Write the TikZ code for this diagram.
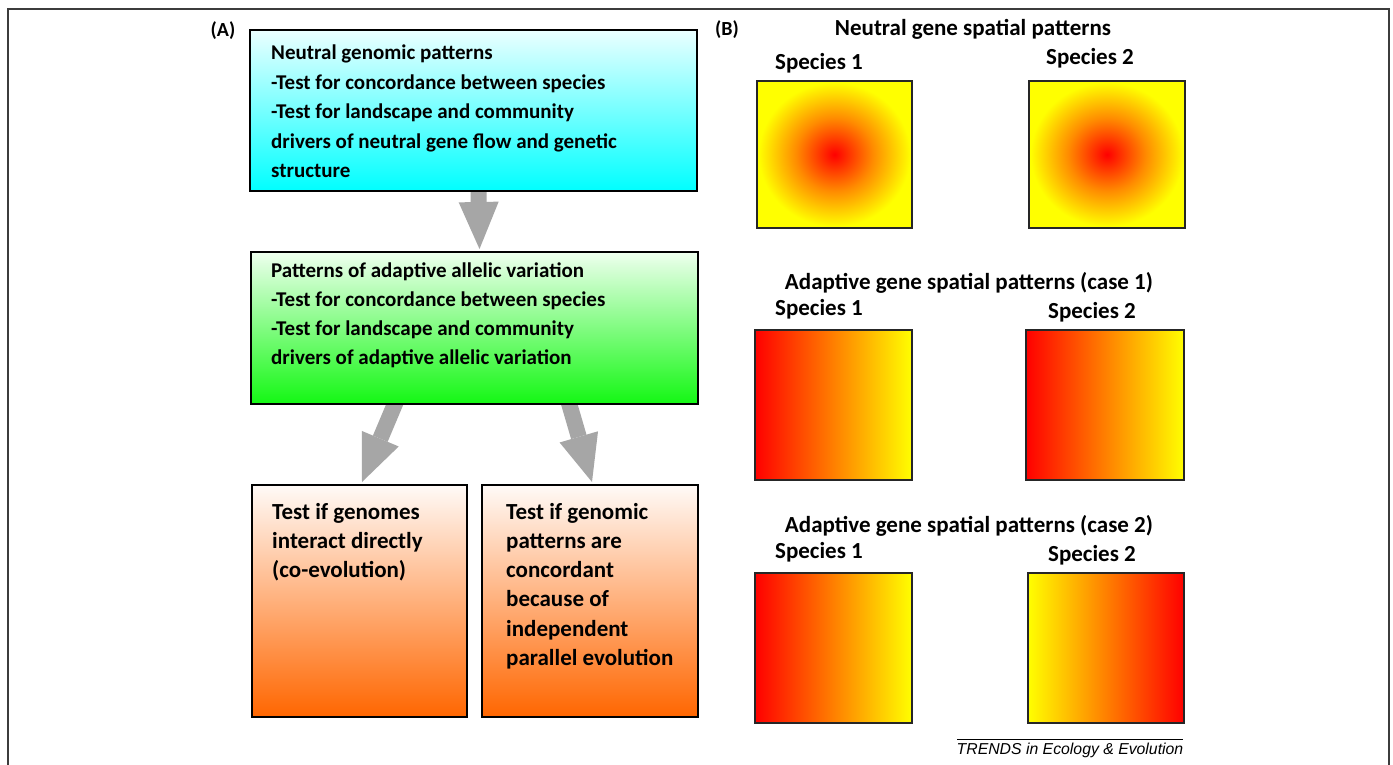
\documentclass[tikz,border=0pt]{standalone}
\usepackage{fontspec}
\setmainfont{Carlito}
\newfontfamily\footfont{Liberation Sans}
\usetikzlibrary{arrows.meta,backgrounds,calc}
\definecolor{framegray}{RGB}{60,60,60}
\definecolor{arrowgray}{RGB}{166,166,166}
\definecolor{cyantop}{RGB}{235,255,255}
\definecolor{cyanbot}{RGB}{0,255,255}
\definecolor{greentop}{RGB}{238,255,238}
\definecolor{greenbot}{RGB}{20,248,20}
\definecolor{orgtop}{RGB}{255,250,247}
\definecolor{orgbot}{RGB}{255,102,0}
\definecolor{pred}{RGB}{255,0,0}
\definecolor{porange}{RGB}{255,140,0}
\definecolor{pyellow}{RGB}{255,255,0}
\pgfdeclareradialshading{neutralshade}{\pgfpoint{0bp}{0bp}}{color(0bp)=(pred); color(12.5bp)=(porange); color(24.5bp)=(pyellow); color(50bp)=(pyellow)}
\tikzset{
  flowbox/.style={draw=black, line width=2pt, inner sep=0pt},
  mapbox/.style={draw=black!85, line width=1.3pt, inner sep=0pt},
  boxtext/.style={anchor=base west, inner sep=0pt},
  title/.style={anchor=base, inner sep=0pt, font=\fontsize{23}{27}\selectfont\bfseries},
  panel/.style={anchor=base, inner sep=0pt, font=\fontsize{20}{24}\selectfont\bfseries},
  bigarrow/.style={draw=arrowgray, line width=16pt, -{Triangle[width=40pt,length=47pt,line width=0pt]}, shorten <=-8pt},
}
\begin{document}
\begin{tikzpicture}[x=1pt,y=-1pt]
\useasboundingbox (0,0) rectangle (1393,765);
\begin{scope}[on background layer]
\fill[white] (0,0) rectangle (1393,765);
\end{scope}
\draw[framegray, line width=2pt] (8,766) -- (8,9) -- (1389,9) -- (1389,766);

% panel labels
\node[panel] (labA) at (223,37) {(A)};
\node[panel] (labB) at (727,36) {(B)};

% flow boxes
\node[flowbox, top color=cyantop, bottom color=cyanbot, minimum width=447pt, minimum height=161pt] (box1) at (473.5,110.5) {};
\node[flowbox, top color=greentop, bottom color=greenbot, minimum width=447pt, minimum height=152pt] (box2) at (474.5,328) {};
\node[flowbox, top color=orgtop, bottom color=orgbot, minimum width=215pt, minimum height=232pt] (box3) at (359.5,601) {};
\node[flowbox, top color=orgtop, bottom color=orgbot, minimum width=216pt, minimum height=232pt] (box4) at (590,601) {};

\node[boxtext] (t1) at (271,60) {\parbox[t]{420pt}{\raggedright\fontsize{21}{29.5}\selectfont\bfseries
Neutral genomic patterns\\
-Test for concordance between species\\
-Test for landscape and community\\
drivers of neutral gene flow and genetic\\
structure}};
\node[boxtext] (t2) at (271,277) {\parbox[t]{420pt}{\raggedright\fontsize{21}{29.3}\selectfont\bfseries
Patterns of adaptive allelic variation\\
-Test for concordance between species\\
-Test for landscape and community\\
drivers of adaptive allelic variation}};
\node[boxtext] (t3) at (272,519) {\parbox[t]{190pt}{\raggedright\fontsize{23}{29.3}\selectfont\bfseries
Test if genomes\\
interact directly\\
(co-evolution)}};
\node[boxtext] (t4) at (506,519) {\parbox[t]{190pt}{\raggedright\fontsize{23}{29.3}\selectfont\bfseries
Test if genomic\\
patterns are\\
concordant\\
because of\\
independent\\
parallel evolution}};

% arrows
\begin{scope}[on background layer]
\draw[bigarrow] ([xshift=5pt]box1.south) -- ([xshift=5pt,yshift=2pt]box2.north);
\draw[bigarrow] ([xshift=-80pt]box2.south) -- ([xshift=2.5pt,yshift=2pt]box3.north);
\draw[bigarrow] ([xshift=95pt]box2.south) -- ([xshift=2pt,yshift=2pt]box4.north);
\end{scope}

% right panel
\node[title] (h1) at (973,36) {Neutral gene spatial patterns};
\node[title] (s11) at (819,70) {Species 1};
\node[title] (s12) at (1090,65) {Species 2};
\node[mapbox, shading=neutralshade, minimum width=155pt, minimum height=147pt] (n1) at (834.5,154.5) {};
\node[mapbox, shading=neutralshade, minimum width=156pt, minimum height=147pt] (n2) at (1107,154.5) {};

\node[title] (h2) at (969,289) {Adaptive gene spatial patterns (case 1)};
\node[title] (s21) at (819,315) {Species 1};
\node[title] (s22) at (1092,318) {Species 2};
\node[mapbox, left color=pred, right color=pyellow, minimum width=157pt, minimum height=150pt] (a1) at (833.5,405) {};
\node[mapbox, left color=pred, right color=pyellow, minimum width=158pt, minimum height=150pt] (a2) at (1105,405) {};

\node[title] (h3) at (969,532) {Adaptive gene spatial patterns (case 2)};
\node[title] (s31) at (819,558) {Species 1};
\node[title] (s32) at (1092,561) {Species 2};
\node[mapbox, left color=pred, right color=pyellow, minimum width=157pt, minimum height=150pt] (b1) at (833.5,648) {};
\node[mapbox, left color=pyellow, right color=pred, minimum width=156pt, minimum height=150pt] (b2) at (1106,648) {};

% footer
\node[anchor=base, inner sep=0pt, font=\footfont\itshape\fontsize{15.8}{18}\selectfont] (foot) at (1070,754) {TRENDS in Ecology \& Evolution};
\coordinate (fl) at (957,739);
\coordinate (fr) at (1183,739);
\draw[black, line width=1pt] (fl) -- (fr);
\end{tikzpicture}
\end{document}
